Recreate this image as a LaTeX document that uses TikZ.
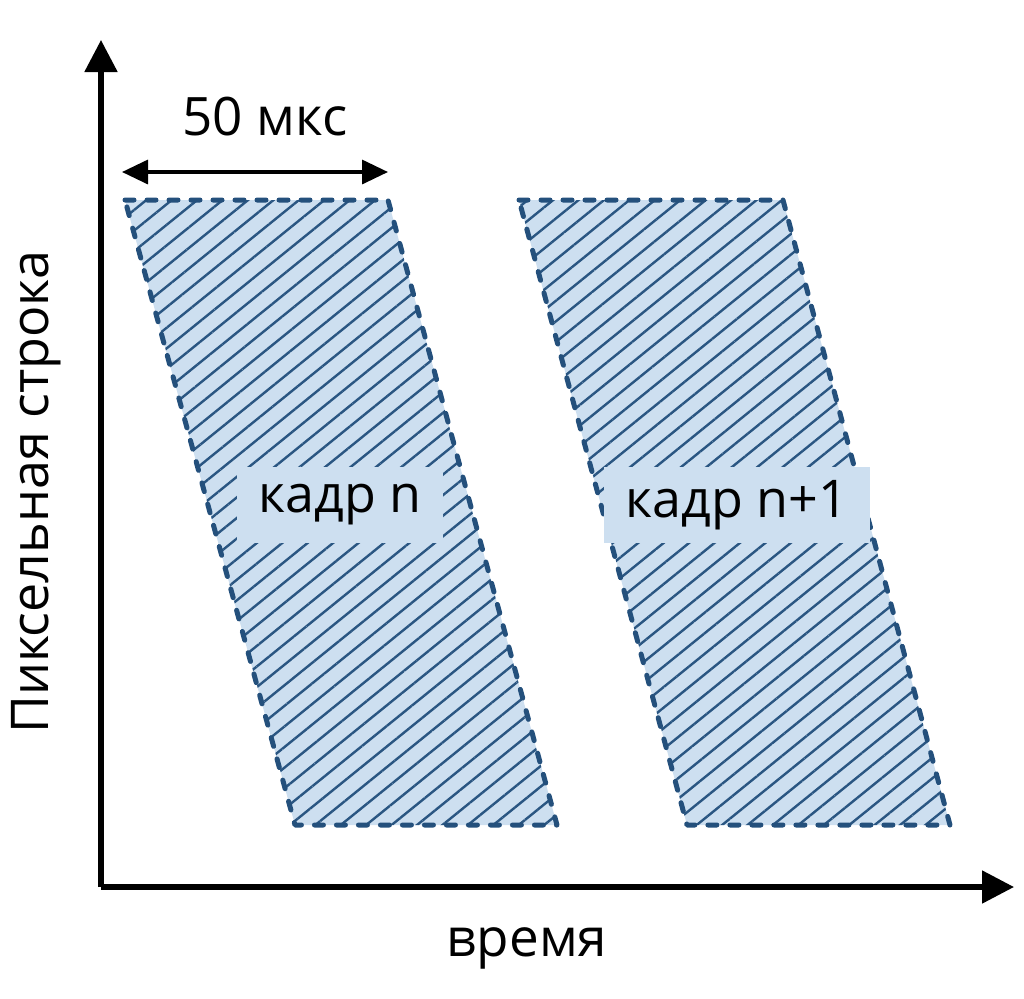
\documentclass[tikz,border=0pt]{standalone}
\usepackage{fontspec}
\setmainfont{Open Sans}
\usetikzlibrary{arrows.meta,patterns.meta}
\definecolor{framec}{HTML}{24507C}
\definecolor{hatchc}{HTML}{2A5682}
\definecolor{fillc}{HTML}{CDDFF0}
\begin{document}
\begin{tikzpicture}[x=0.5pt,y=-0.5pt,
  axis/.style={line width=2.6pt,-{Triangle[length=16pt,width=16pt]}},
  dim/.style={line width=1.7pt,{Triangle[length=13pt,width=12pt]}-{Triangle[length=13pt,width=12pt]}},
  frameshape/.style={draw=framec,line width=2.5pt,dash pattern=on 4.5pt off 6.5pt,line cap=round,line join=round,
    preaction={fill=fillc},
    preaction={pattern={Lines[angle=39,distance=8pt,line width=1.2pt]},pattern color=hatchc}},
  lbl/.style={fill=fillc,inner xsep=11pt,minimum height=38pt,font=\fontsize{26}{31}\selectfont},
  txt/.style={font=\fontsize{26.5}{31}\selectfont},
]
\useasboundingbox (0,0) rectangle (1024,998);
% axes
\coordinate (O) at (101,887);
\coordinate (Ytop) at (101,40);
\coordinate (Xend) at (1014,887);
\draw[axis] (O) -- (Ytop);
\draw[axis] (O) -- (Xend);
% frames
\draw[frameshape] (125,200) -- (388,200) -- (557,825) -- (295,825) -- cycle;
\draw[frameshape] (519,200) -- (783,200) -- (950,825) -- (687,825) -- cycle;
% dimension
\coordinate (dA) at (122,172);
\coordinate (dB) at (388,172);
\draw[dim] (dA) -- (dB);
\node[txt] (dimlbl) at (265,117) {50 мкс};
% labels
\node[lbl] (f1) at (340,505) {кадр n};
\node[lbl] (f2) at (737,505) {кадр n+1};
\node[txt,rotate=90,font=\fontsize{26}{31}\selectfont] (ylbl) at (36,492) {Пиксельная строка};
\node[txt] (xlbl) at (527,948) {время};
\end{tikzpicture}
\end{document}
